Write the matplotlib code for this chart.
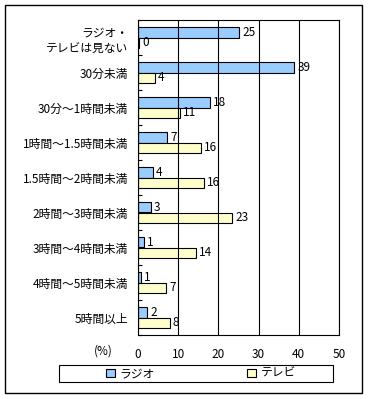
import matplotlib.pyplot as plt
import numpy as np
from matplotlib.patches import Rectangle

plt.rcParams['font.family'] = ['Noto Sans CJK JP', 'DejaVu Sans']

# データ
categories = ['ラジオ・\nテレビは見ない', '30分未満', '30分～1時間未満', '1時間～1.5時間未満',
              '1.5時間～2時間未満', '2時間～3時間未満', '3時間～4時間未満', '4時間～5時間未満', '5時間以上']
radio = [25.2, 38.9, 18.0, 7.3, 3.8, 3.3, 1.6, 0.7, 2.3]
tv = [0.3, 4.3, 10.4, 15.7, 16.4, 23.5, 14.5, 7.0, 8.0]
radio_labels = [25, 39, 18, 7, 4, 3, 1, 1, 2]
tv_labels = [0, 4, 11, 16, 16, 23, 14, 7, 8]

fs = 8.5

fig = plt.figure(figsize=(3.69, 3.99), dpi=100)
ax = fig.add_axes([138 / 369, 1 - 335 / 399, 201 / 369, 315 / 399])

y = np.arange(len(categories))
h = 0.3
b1 = ax.barh(y - h / 2, radio, height=h, color='#99CCFF', edgecolor='black', linewidth=0.8, label='ラジオ')
b2 = ax.barh(y + h / 2, tv, height=h, color='#FFFFCC', edgecolor='black', linewidth=0.8, label='テレビ')

for bars, labs in ((b1, radio_labels), (b2, tv_labels)):
    for bar, lab in zip(bars, labs):
        ax.text(bar.get_width() + 0.7, bar.get_y() + bar.get_height() / 2, str(lab),
                va='center', ha='left', fontsize=fs)

ax.set_xlim(0, 50)
ax.set_ylim(len(categories) - 0.5, -0.5)
ax.set_xticks([0, 10, 20, 30, 40, 50])
ax.tick_params(axis='x', length=0, labelsize=fs, pad=9)
ax.set_yticks(y)
ax.set_yticklabels(categories, fontsize=fs, linespacing=1.4)
ax.tick_params(axis='y', length=0, pad=7)
ax.set_yticks(np.arange(len(categories) + 1) - 0.5, minor=True)
ax.tick_params(axis='y', which='minor', direction='in', length=3, width=0.8)
ax.xaxis.grid(True, color='black', linewidth=0.8)
ax.set_axisbelow(False)
for s in ax.spines.values():
    s.set_linewidth(0.8)

fig.text(103 / 369, 1 - 351 / 399, '(%)', fontsize=fs, ha='center', va='center')

# 凡例
fig.patches.append(Rectangle((59 / 369, 1 - 382 / 399), 274 / 369, 17 / 399, transform=fig.transFigure,
                             fill=False, edgecolor='black', linewidth=0.8))
fig.legend(handles=[b1, b2], loc='center', bbox_to_anchor=(201 / 369, 1 - 373.5 / 399), ncol=2,
           frameon=False, fontsize=fs, handlelength=0.75, handleheight=0.75, handletextpad=0.4,
           columnspacing=7.8)

# 外枠
fig.patches.append(Rectangle((5 / 369, 6 / 399), 357 / 369, 388 / 399, transform=fig.transFigure,
                             fill=False, edgecolor='black', linewidth=1))

fig.savefig('out.png', dpi=100)
